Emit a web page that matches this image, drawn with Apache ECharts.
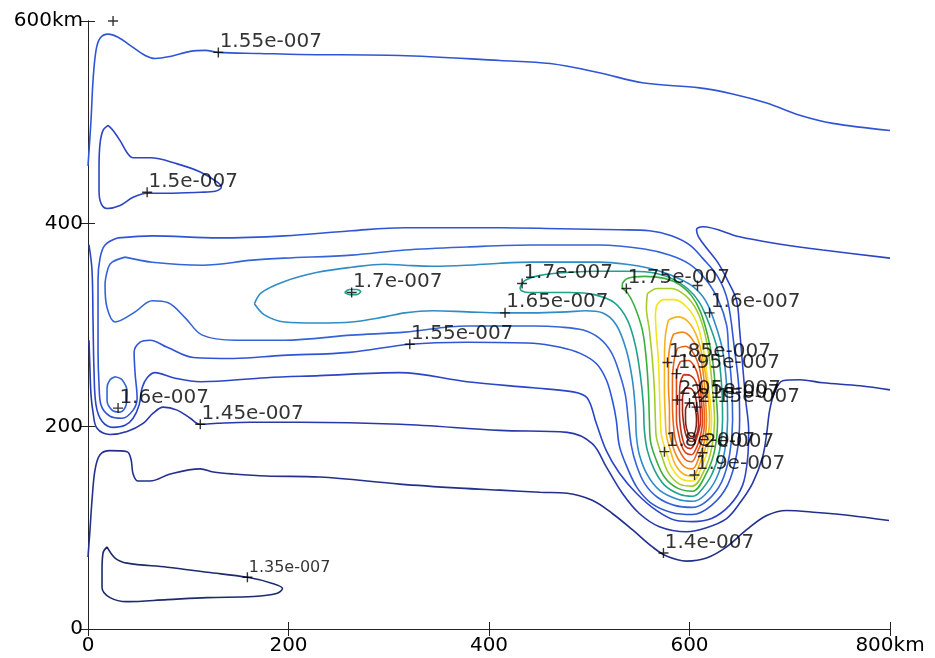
<!DOCTYPE html>
<html>
<head>
<meta charset="utf-8">
<script src="https://cdn.jsdelivr.net/npm/echarts@6/dist/echarts.min.js"></script>
<style>
  html, body { margin: 0; padding: 0; background: #ffffff; }
  #chart { width: 935px; height: 658px; }
</style>
</head>
<body>
<div id="chart"></div>
<script>
// Contour lines of the field (x, y in km), one array per traced line.
const c135 = [[19,81],[27,70],[39,65],[79,61],[119,56],[159,51],[184,45],[194,40],[188,35],[165,32],[119,31],[79,29],[39,27],[22,31],[14,41],[14,58],[15,75],[19,81]];
const c140 = [[0,71],[2,98],[4,127],[7,157],[12,172],[22,176],[39,175],[43,167],[45,153],[50,146],[62,146],[82,153],[112,158],[125,155],[145,153],[178,151],[231,150],[311,143],[371,139],[411,137],[451,135],[478,134],[503,127],[523,114],[543,98],[563,81],[577,72],[597,67],[617,70],[637,81],[657,98],[677,112],[697,117],[727,115],[760,112],[799,107]];
const c145 = [[1,285],[2,255],[3,231],[5,214],[9,198],[22,192],[39,195],[55,203],[65,213],[75,219],[89,216],[102,208],[112,202],[129,203],[162,204],[211,204],[311,202],[411,196],[478,194],[503,183],[517,160],[533,134],[550,114],[570,101],[597,96],[617,100],[637,109],[650,124],[663,144],[673,170],[677,193],[680,216],[685,234],[693,245],[710,246],[733,243],[770,240],[800,236]];
const c150 = [[1,379],[4,354],[5,305],[6,255],[8,221],[14,205],[25,199],[37,201],[45,208],[51,221],[54,238],[59,248],[67,253],[85,248],[112,244],[178,248],[231,250],[311,253],[378,244],[444,238],[484,234],[498,228],[507,203],[517,176],[530,154],[547,134],[567,117],[587,107],[603,106],[622,109],[640,122],[653,142],[658,169],[659,196],[656,226],[653,260],[650,295],[647,324],[638,344],[628,362],[617,376],[609,387],[607,394],[613,397],[650,387],[683,381],[733,374],[800,366]];
const c150Loop = [[20,497],[25,492],[32,482],[39,470],[45,465],[62,465],[89,459],[112,451],[129,441],[133,436],[127,432],[112,431],[79,430],[59,430],[45,426],[32,418],[19,415],[13,420],[11,433],[11,456],[12,479],[15,492],[20,497]];
const c155Top = [[0,457],[3,502],[5,541],[8,571],[12,583],[20,587],[30,584],[42,576],[57,566],[67,563],[82,565],[102,570],[117,571],[130,569],[171,568],[211,567],[311,566],[411,561],[461,558],[510,549],[553,539],[610,534],[643,528],[677,519],[710,507],[743,499],[800,492]];
const c155 = [[30,386],[64,388],[130,386],[196,388],[263,393],[316,396],[411,396],[471,395],[530,394],[560,393],[582,388],[600,379],[613,366],[628,348],[638,324],[645,275],[649,241],[650,206],[647,172],[638,142],[622,122],[603,113],[582,115],[562,124],[548,139],[538,159],[530,181],[527,206],[523,226],[517,246],[507,262],[491,272],[471,278],[444,282],[378,283],[321,281],[261,273],[194,270],[145,267],[105,268],[79,278],[62,285],[52,283],[46,273],[47,252],[49,228],[45,216],[34,208],[22,210],[13,221],[11,241],[10,275],[10,315],[10,344],[12,366],[17,379],[30,386]];
const c160 = [[37,367],[64,362],[114,359],[164,364],[196,366],[263,369],[316,374],[378,377],[444,379],[510,379],[555,375],[580,369],[600,360],[617,344],[629,324],[637,300],[639,275],[642,241],[643,206],[640,172],[632,145],[618,127],[603,120],[585,122],[568,130],[555,144],[547,162],[542,181],[539,206],[536,231],[530,253],[522,273],[510,287],[494,295],[471,298],[444,299],[378,299],[316,293],[263,290],[196,285],[147,285],[114,290],[97,307],[80,322],[64,324],[47,313],[27,303],[19,317],[17,339],[20,356],[24,362],[37,367]];
const c160Loop = [[27,249],[34,246],[39,234],[38,221],[32,214],[24,216],[19,226],[19,238],[22,246],[27,249]];
const c165 = [[166,321],[173,332],[196,343],[229,352],[263,357],[296,360],[316,359],[344,358],[378,359],[411,361],[444,362],[478,362],[510,362],[537,360],[560,356],[582,349],[602,339],[616,324],[626,300],[633,275],[637,241],[638,206],[635,175],[627,149],[615,132],[603,126],[588,128],[570,137],[558,152],[550,172],[547,191],[546,216],[543,246],[537,275],[527,300],[513,312],[496,314],[478,313],[444,312],[411,312],[378,313],[344,314],[316,312],[296,308],[263,303],[229,302],[196,303],[176,310],[166,321]];
const c170 = [[431,337],[436,344],[451,349],[481,352],[510,353],[535,353],[560,352],[582,346],[598,336],[610,322],[620,300],[628,275],[632,241],[633,206],[630,176],[622,152],[610,135],[603,131],[590,133],[575,142],[565,157],[558,176],[555,196],[554,221],[551,250],[546,280],[538,305],[525,322],[505,330],[481,332],[455,332],[439,332],[432,334],[431,337]];
const c170Loop = [[256,332],[261,335],[268,335],[272,333],[268,330],[261,330],[256,332]];
const c175 = [[533,341],[538,346],[555,348],[575,346],[590,340],[602,329],[611,313],[618,290],[623,265],[626,236],[628,206],[625,176],[617,154],[603,136],[588,139],[575,150],[566,169],[561,186],[560,206],[559,236],[557,265],[553,295],[545,319],[538,332],[533,337],[533,341]];
const c180 = [[558,331],[568,336],[582,336],[596,329],[607,315],[615,293],[620,265],[623,236],[625,206],[622,178],[615,157],[603,141],[590,143],[579,154],[572,172],[567,189],[566,206],[565,236],[563,265],[560,295],[557,317],[558,331]];
const c185 = [[567,319],[574,325],[585,325],[597,318],[607,303],[613,280],[617,255],[620,231],[622,206],[619,181],[613,162],[603,146],[592,148],[583,158],[577,174],[572,191],[571,206],[570,236],[569,265],[567,290],[566,310],[567,319]];
const c190 = [[579,305],[588,308],[599,303],[608,287],[614,263],[618,236],[620,206],[617,183],[611,165],[603,151],[594,153],[586,162],[581,176],[577,191],[576,206],[575,236],[575,265],[576,290],[579,305]];
const c195 = [[584,291],[593,293],[602,287],[610,272],[614,250],[616,226],[617,206],[615,186],[610,171],[603,158],[595,160],[588,169],[583,181],[580,196],[580,216],[579,241],[579,265],[581,282],[584,291]];
const c200 = [[588,277],[596,279],[604,272],[610,257],[613,236],[615,206],[613,188],[608,175],[602,165],[596,167],[590,176],[586,186],[584,201],[583,221],[583,246],[585,267],[588,277]];
const c205 = [[591,264],[599,265],[606,257],[610,243],[612,224],[613,206],[611,191],[607,179],[602,172],[596,174],[592,181],[589,193],[587,206],[587,226],[587,246],[588,257],[591,264]];
const c210 = [[594,251],[601,250],[607,242],[610,226],[611,206],[609,194],[605,183],[601,178],[596,180],[593,188],[591,199],[590,213],[590,231],[591,244],[594,251]];
const c215 = [[596,238],[602,237],[606,229],[608,216],[609,201],[607,191],[603,185],[599,186],[596,193],[594,204],[593,216],[593,228],[596,238]];
const c220 = [[599,223],[603,223],[606,216],[607,206],[606,196],[603,190],[600,191],[597,198],[596,208],[596,216],[599,223]];

// Contour level of each line
const contourLines = [
  [1.35, c135], [1.4, c140], [1.45, c145], [1.5, c150], [1.5, c150Loop],
  [1.55, c155Top], [1.55, c155], [1.6, c160], [1.6, c160Loop], [1.65, c165],
  [1.7, c170], [1.7, c170Loop], [1.75, c175], [1.8, c180], [1.85, c185],
  [1.9, c190], [1.95, c195], [2.0, c200], [2.05, c205], [2.1, c210],
  [2.15, c215], [2.2, c220]
];

// clabel marks: [x, y, text]
const labelMarks = [
  [130,569,'1.55e-007'], [59,431,'1.5e-007'], [263,332,'1.7e-007'], [433,341,'1.7e-007'],
  [537,336,'1.75e-007'], [416,312,'1.65e-007'], [620,312,'1.6e-007'], [608,339,''],
  [321,281,'1.55e-007'], [30,218,'1.6e-007'], [112,202,'1.45e-007'],
  [578,263,'1.85e-007'], [587,252,'1.95e-007'], [588,226,'2.05e-007'],
  [600,223,'2.1e-007'], [607,219,'2.15e-007'],
  [575,175,'1.8e-007'], [613,174,'2e-007'], [605,152,'1.9e-007'],
  [574,75,'1.4e-007'], [25,600,'']
];
const smallLabelMarks = [[159,51,'1.35e-007']];

const xTicks = [0, 200, 400, 600, 800];
const yTicks = [0, 200, 400, 600];

// Line colour per level (jet-like ramp)
const levelColors = {
  '1.35':'#1d2a6c', '1.4':'#22308a', '1.45':'#2838a8', '1.5':'#2c45c6', '1.55':'#3055d4',
  '1.6':'#3464d8', '1.65':'#2f8cc6', '1.7':'#22a08e', '1.75':'#3aaf3e', '1.8':'#a6cc2c',
  '1.85':'#f2e41e', '1.9':'#f6b41c', '1.95':'#f08a1a', '2':'#e8641a', '2.05':'#dc441a',
  '2.1':'#c63018', '2.15':'#a42416', '2.2':'#822014'
};

const FONT = 'DejaVu Sans';
const chart = echarts.init(document.getElementById('chart'), null, { renderer: 'canvas' });

const lineSeries = contourLines.map(([level, pts]) => ({
  type: 'line',
  data: pts,
  smooth: 0.35,
  symbol: 'none',
  silent: true,
  xAxisIndex: 0, yAxisIndex: 0,
  lineStyle: { width: 1.6, color: levelColors[String(level)] },
  z: 2
}));

const plusPath = 'path://M0,5L10,5M5,0L5,10';
function markSeries(data, fontSize, dy) {
  return {
    type: 'scatter',
    data: data,
    symbol: plusPath,
    symbolSize: 10,
    silent: true,
    itemStyle: { color: 'rgba(0,0,0,0)', borderColor: '#000', borderWidth: 1.4 },
    label: {
      show: true,
      formatter: p => p.data[2],
      position: [7, dy],
      align: 'left',
      verticalAlign: 'middle',
      fontFamily: FONT,
      fontSize: fontSize,
      color: '#000'
    },
    z: 5
  };
}

const tickStyle = { show: true, inside: true, length: 7, lineStyle: { color: '#222', width: 1 } };
const lineAxis = { show: true, lineStyle: { color: '#222', width: 1 } };

chart.setOption({
  animation: false,
  backgroundColor: '#ffffff',
  grid: { left: 88, right: 45, top: 21, bottom: 29, containLabel: false },
  xAxis: [
    {
      type: 'value', min: 0, max: 800, interval: 200, position: 'bottom',
      axisLine: lineAxis, axisTick: tickStyle, splitLine: { show: false },
      axisLabel: {
        margin: 7, fontFamily: FONT, fontSize: 20, color: '#000',
        formatter: v => (v === xTicks[xTicks.length - 1] ? v + 'km' : String(v))
      }
    },
    {
      type: 'value', min: 0, max: 800, interval: 200, position: 'top',
      axisLine: lineAxis, axisTick: tickStyle, splitLine: { show: false },
      axisLabel: { show: false }
    }
  ],
  yAxis: [
    {
      type: 'value', min: 0, max: 600, interval: 200, position: 'left',
      axisLine: lineAxis, axisTick: tickStyle, splitLine: { show: false },
      axisLabel: {
        margin: 5, fontFamily: FONT, fontSize: 20, color: '#000',
        formatter: v => (v === yTicks[yTicks.length - 1] ? v + 'km' : String(v))
      }
    },
    {
      type: 'value', min: 0, max: 600, interval: 200, position: 'right',
      axisLine: lineAxis, axisTick: tickStyle, splitLine: { show: false },
      axisLabel: { show: false }
    }
  ],
  series: [
    ...lineSeries,
    markSeries(labelMarks, 20, -5),
    markSeries(smallLabelMarks, 16, -4)
  ]
});
</script>
</body>
</html>
